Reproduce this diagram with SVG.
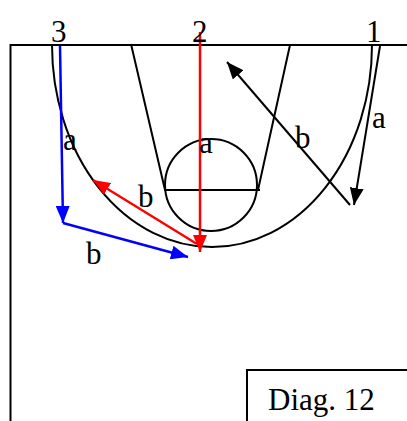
<svg xmlns="http://www.w3.org/2000/svg" width="407" height="421" viewBox="0 0 407 421">
<style>
.ln{fill:none;stroke:#000;stroke-width:2}
.t{font-family:"Liberation Serif","Times New Roman",serif;font-size:31px;fill:#000}
</style>
<defs>
<marker id="ak" markerUnits="userSpaceOnUse" markerWidth="17" markerHeight="14" refX="17" refY="7" orient="auto"><path d="M0,0 L17,7 L0,14 z" fill="#000"/></marker>
<marker id="ar" markerUnits="userSpaceOnUse" markerWidth="17" markerHeight="14" refX="17" refY="7" orient="auto"><path d="M0,0 L17,7 L0,14 z" fill="#f00"/></marker>
<marker id="ab" markerUnits="userSpaceOnUse" markerWidth="17" markerHeight="14" refX="17" refY="7" orient="auto"><path d="M0,0 L17,7 L0,14 z" fill="#00f"/></marker>
</defs>
<rect width="407" height="421" fill="#fff"/>
<g id="court">
<path class="ln" d="M10.5,421 V45 H407"/>
<path class="ln" d="M52,45 A160,202 0 0 0 372,45"/>
<path class="ln" d="M131,44 L165,190 M290,45 L258,190 M164,190 H260"/>
<circle class="ln" cx="211" cy="185" r="46"/>
</g>
<g id="connectors" fill="none" stroke-width="2.5">
<path d="M200,32 V252" stroke="#f00" marker-end="url(#ar)"/>
<path d="M197,244 L93,180" stroke="#f00" marker-end="url(#ar)"/>
<path d="M60,46 L63,223" stroke="#00f" marker-end="url(#ab)"/>
<path d="M63,223 L188,257" stroke="#00f" marker-end="url(#ab)"/>
<path d="M350,205 L227,62" stroke="#000" stroke-width="2" marker-end="url(#ak)"/>
<path d="M380,46 L354,205" stroke="#000" stroke-width="2" marker-end="url(#ak)"/>
</g>
<g id="labels">
<text class="t" x="51" y="42">3</text>
<text class="t" x="192" y="42">2</text>
<text class="t" x="366" y="42">1</text>
<text class="t" x="63" y="150">a</text>
<text class="t" x="138" y="207">b</text>
<text class="t" x="199" y="153">a</text>
<text class="t" x="86" y="264">b</text>
<text class="t" x="295" y="148">b</text>
<text class="t" x="372" y="128">a</text>
</g>
<g id="caption">
<path class="ln" d="M247,421 V370 H407"/>
<text class="t" x="268" y="410">Diag. 12</text>
</g>
</svg>
